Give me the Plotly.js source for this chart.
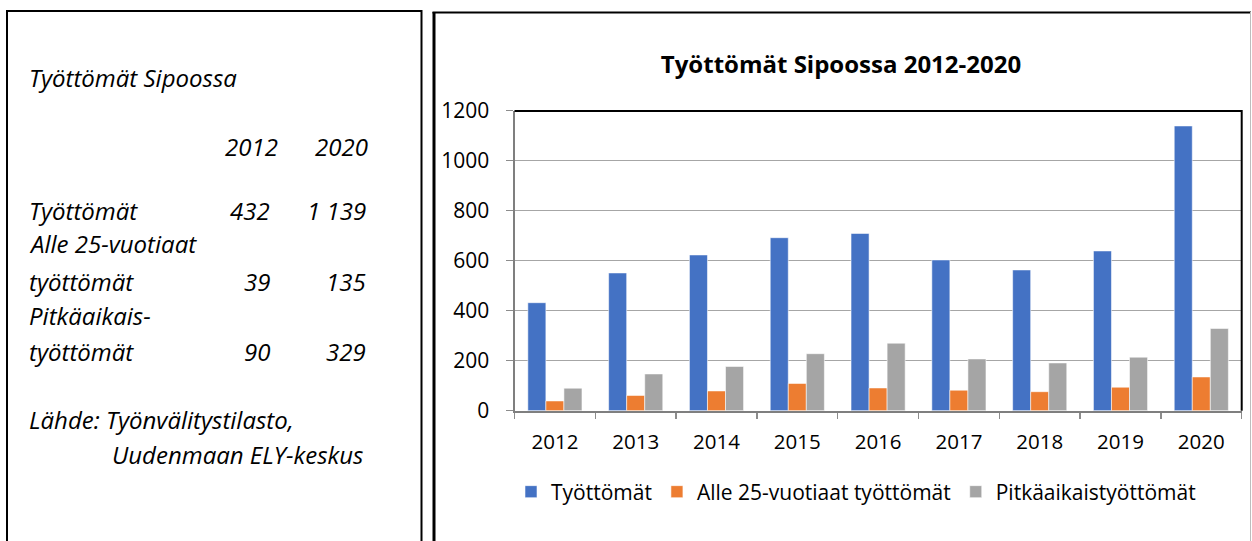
<!DOCTYPE html>
<html>
<head>
<meta charset="utf-8">
<script src="https://cdn.plot.ly/plotly-3.0.1.min.js"></script>
<style>
  html, body { margin: 0; padding: 0; background: #fff; }
  #chart { width: 1252px; height: 541px; }
</style>
</head>
<body>
<div id="chart"></div>
<script>
// ---- Data ----
const years = ["2012", "2013", "2014", "2015", "2016", "2017", "2018", "2019", "2020"];
const tyottomat = [432, 551, 623, 692, 709, 603, 563, 639, 1139];
const alle25 = [39, 61, 79, 109, 91, 82, 76, 94, 135];
const pitkaaikais = [90, 147, 177, 228, 270, 207, 191, 214, 329];
const seriesNames = ["Työttömät", "Alle 25-vuotiaat työttömät", "Pitkäaikaistyöttömät"];
const yTicks = [0, 200, 400, 600, 800, 1000, 1200];
const chartTitle = "Työttömät Sipoossa 2012-2020";

// Left text panel content
const panelTitle = "Työttömät Sipoossa";
const tableYears = ["2012", "2020"];
const tableRows = [
  { label: ["Työttömät"], v2012: "432", v2020: "1 139" },
  { label: ["Alle 25-vuotiaat", "työttömät"], v2012: "39", v2020: "135" },
  { label: ["Pitkäaikais-", "työttömät"], v2012: "90", v2020: "329" }
];
const sourceLines = ["Lähde: Työnvälitystilasto,", "Uudenmaan ELY-keskus"];

// ---- Layout helpers (pixel -> paper) ----
const W = 1252, H = 541;
const px = x => x / W;
const py = y => 1 - y / H;

const colors = ["#4472C4", "#ED7D31", "#A5A5A5"];
const valueSets = [tyottomat, alle25, pitkaaikais];
const FONT = "Open Sans, Lato, sans-serif";

const traces = valueSets.map((vals, i) => ({
  type: "bar",
  x: years,
  y: vals,
  name: seriesNames[i],
  marker: { color: colors[i], line: { color: "rgba(255,255,255,0.55)", width: 1 } },
  hoverinfo: "x+y+name"
}));

// annotations for the left panel
const ann = [];
const leftFont = { family: FONT, size: 24, color: "#000" };
function addText(text, x, y, anchor) {
  ann.push({ text: text, xref: "paper", yref: "paper", x: px(x), y: py(y),
    xanchor: anchor, yanchor: "middle", showarrow: false,
    font: leftFont });
}
function it(s) { return "<i>" + s + "</i>"; }

addText(it(panelTitle), 27, 77, "left");
addText(it(tableYears[0]), 280, 146, "right");
addText(it(tableYears[1]), 370, 146, "right");
const rowY = [[210], [244, 281], [315, 351]];
tableRows.forEach((r, i) => {
  const ys = rowY[i];
  r.label.forEach((l, j) => addText(it(l), 27, ys[j], "left"));
  const yv = ys[ys.length - 1];
  addText(it(r.v2012), 272, yv, "right");
  addText(it(r.v2020), 368, yv, "right");
});
addText(it(sourceLines[0]), 27, 420, "left");
addText(it(sourceLines[1]), 110, 454, "left");

const shapes = [
  // left panel box (no bottom edge visible)
  { type: "path", xref: "paper", yref: "paper",
    path: `M ${px(7)} ${py(545)} L ${px(7)} ${py(11)} L ${px(421.5)} ${py(11)} L ${px(421.5)} ${py(545)}`,
    line: { color: "#000", width: 2 }, layer: "above" },
  // right panel box
  { type: "line", xref: "paper", yref: "paper", x0: px(434), x1: px(434), y0: py(545), y1: py(12),
    line: { color: "#000", width: 3 }, layer: "above" },
  { type: "line", xref: "paper", yref: "paper", x0: px(432.5), x1: px(1251), y0: py(12.5), y1: py(12.5),
    line: { color: "#000", width: 2 }, layer: "above" },
  { type: "line", xref: "paper", yref: "paper", x0: px(1250.5), x1: px(1250.5), y0: py(545), y1: py(12),
    line: { color: "#bdbdbd", width: 1 }, layer: "above" },
  // plot area border (top and right black)
  { type: "path", xref: "paper", yref: "paper",
    path: `M ${px(514.5)} ${py(111)} L ${px(1241.7)} ${py(111)} L ${px(1241.7)} ${py(410.7)}`,
    line: { color: "#000", width: 2 }, layer: "above" }
];

const layout = {
  width: W, height: H,
  margin: { l: 0, r: 0, t: 0, b: 0, pad: 0 },
  paper_bgcolor: "#fff", plot_bgcolor: "#fff",
  font: { family: FONT, size: 20, color: "#000" },
  title: { text: "<b>" + chartTitle + "</b>", xref: "paper", yref: "container",
    x: px(841), y: py(65), xanchor: "center", yanchor: "middle",
    font: { family: FONT, size: 24, color: "#000" } },
  barmode: "group",
  bargap: 0.33,
  bargroupgap: 0,
  showlegend: true,
  legend: { orientation: "h", x: px(856), xanchor: "center", y: py(492), yanchor: "middle",
    font: { family: FONT, size: 21, color: "#000" }, itemwidth: 30, traceorder: "normal",
    itemclick: false, itemdoubleclick: false },
  xaxis: {
    domain: [px(514.5), px(1241.7)],
    type: "category",
    tickson: "boundaries",
    ticks: "outside", ticklen: 6, tickcolor: "#8c8c8c", tickwidth: 1.5,
    showline: true, linecolor: "#7f7f7f", linewidth: 2,
    showgrid: false, zeroline: false,
    ticklabelstandoff: 12,
    tickfont: { family: FONT, size: 20.5, color: "#000" },
    fixedrange: true
  },
  yaxis: {
    domain: [py(410.7), py(110.7)],
    range: [0, 1200],
    tickvals: yTicks,
    ticktext: yTicks.map(String),
    ticks: "outside", ticklen: 7, tickcolor: "#8c8c8c", tickwidth: 1.5,
    showline: true, linecolor: "#7f7f7f", linewidth: 2,
    showgrid: true, gridcolor: "#a6a6a6", gridwidth: 1.5,
    zeroline: false,
    ticklabelstandoff: 12,
    tickfont: { family: FONT, size: 21, color: "#000" },
    fixedrange: true
  },
  shapes: shapes,
  annotations: ann
};

Plotly.newPlot("chart", traces, layout, { displayModeBar: false, staticPlot: true });
</script>
</body>
</html>
